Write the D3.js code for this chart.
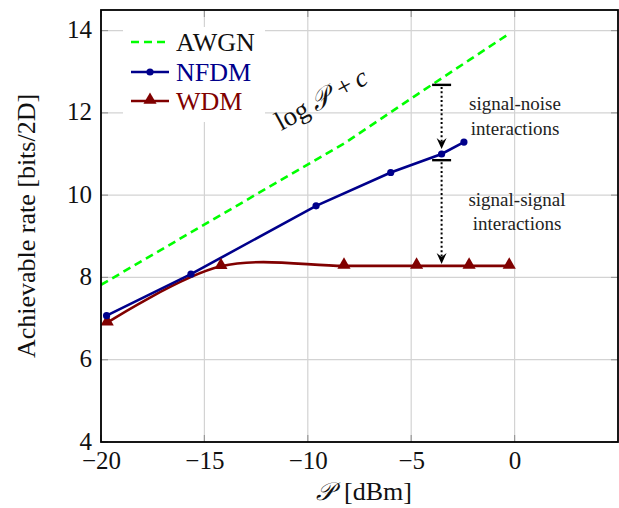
<!DOCTYPE html>
<html>
<head>
<meta charset="utf-8">
<script src="https://cdn.jsdelivr.net/npm/d3@7"></script>
<style>
  html, body { margin: 0; padding: 0; background: #fff; }
</style>
</head>
<body>
<svg id="chart" width="619" height="508" font-family="Liberation Serif"></svg>
<script>
// ---- data ----
const xTicks = [-20, -15, -10, -5, 0];
const yTicks = [4, 6, 8, 10, 12, 14];

const awgnX = [-20, -14.2, -8.2, -4.7, -2.2, -0.25];
const awgnY = [7.82, 9.52, 11.27, 12.45, 13.28, 13.93];

const nfdmX = [-19.73, -15.65, -9.6, -5.99, -3.53, -2.45];
const nfdmY = [7.07, 8.08, 9.74, 10.55, 11.0, 11.29];

const wdmX = [-19.7, -14.2, -8.25, -4.74, -2.2, -0.26];
const wdmY = [6.9, 8.27, 8.28, 8.28, 8.28, 8.28];

const seriesNames = ["AWGN", "NFDM", "WDM"];
const seriesColors = ["#00ff00", "#00008b", "#800000"];

// annotation values (in data units)
const annX = -3.53;
const annAwgn = 12.68;
const annNfdm = 11.0;
const annMid = 10.85;
const annWdm = 8.28;
const annLabels = [["signal-noise", "interactions"], ["signal-signal", "interactions"]];

// ---- chart ----
const FONT = "Liberation Serif";
const svg = d3.select("#chart");
const x = d3.scaleLinear().domain([-20, 5]).range([101, 618]);
const y = d3.scaleLinear().domain([4, 14.5]).range([442, 10]);
const [x0, x1] = x.range();
const [y0, y1] = y.range();

// grid
const grid = svg.append("g");
grid.selectAll(".vg").data(xTicks).join("line")
  .attr("x1", d => x(d)).attr("x2", d => x(d)).attr("y1", y0).attr("y2", y1)
  .attr("stroke", "#d3d3d3").attr("stroke-width", 1.2);
grid.selectAll(".hg").data(yTicks).join("line")
  .attr("y1", d => y(d)).attr("y2", d => y(d)).attr("x1", x0).attr("x2", x1)
  .attr("stroke", "#d3d3d3").attr("stroke-width", 1.2);

// tick marks (inside, all four sides)
const tk = svg.append("g").attr("stroke", "#999").attr("stroke-width", 1.2);
xTicks.forEach(t => {
  tk.append("line").attr("x1", x(t)).attr("x2", x(t)).attr("y1", y0).attr("y2", y0 - 7);
  tk.append("line").attr("x1", x(t)).attr("x2", x(t)).attr("y1", y1).attr("y2", y1 + 7);
});
yTicks.forEach(t => {
  tk.append("line").attr("y1", y(t)).attr("y2", y(t)).attr("x1", x0).attr("x2", x0 + 7);
  tk.append("line").attr("y1", y(t)).attr("y2", y(t)).attr("x1", x1).attr("x2", x1 - 7);
});

// axes labels via d3 axes (no lines)
const xAxis = svg.append("g").attr("transform", `translate(0,${y0})`)
  .call(d3.axisBottom(x).tickValues(xTicks).tickSize(0).tickPadding(27)
    .tickFormat(d => d < 0 ? "\u2212" + Math.abs(d) : d));
xAxis.attr("font-family", FONT).attr("font-size", 25);
xAxis.select(".domain").remove();
xAxis.selectAll("text").attr("fill", "#111").attr("dy", 0).attr("font-family", FONT);

const yAxis = svg.append("g").attr("transform", `translate(${x0},0)`)
  .call(d3.axisLeft(y).tickValues(yTicks).tickSize(0).tickPadding(9));
yAxis.attr("font-family", FONT).attr("font-size", 25);
yAxis.select(".domain").remove();
yAxis.selectAll("text").attr("fill", "#111").attr("dy", "0.28em").attr("font-family", FONT);

// clip
svg.append("clipPath").attr("id", "clip").append("rect")
  .attr("x", x0).attr("y", y1).attr("width", x1 - x0).attr("height", y0 - y1);
const plot = svg.append("g").attr("clip-path", "url(#clip)");

const awgn = awgnX.map((v, i) => [v, awgnY[i]]);
const nfdm = nfdmX.map((v, i) => [v, nfdmY[i]]);
const wdm = wdmX.map((v, i) => [v, wdmY[i]]);

const lineLin = d3.line().x(d => x(d[0])).y(d => y(d[1]));
const lineSmooth = d3.line().x(d => x(d[0])).y(d => y(d[1])).curve(d3.curveCatmullRom.alpha(0.5));

plot.append("path").datum(awgn).attr("d", lineLin)
  .attr("fill", "none").attr("stroke", seriesColors[0]).attr("stroke-width", 2.6)
  .attr("stroke-dasharray", "8,5");

plot.append("path").datum(wdm).attr("d", lineSmooth)
  .attr("fill", "none").attr("stroke", seriesColors[2]).attr("stroke-width", 2.6);

plot.append("path").datum(nfdm).attr("d", lineLin)
  .attr("fill", "none").attr("stroke", seriesColors[1]).attr("stroke-width", 2.6);

const tri = d3.symbol().type(d3.symbolTriangle).size(75);
plot.selectAll(".wm").data(wdm).join("path")
  .attr("d", tri).attr("transform", d => `translate(${x(d[0])},${y(d[1]) - 1})`)
  .attr("fill", seriesColors[2]);

plot.selectAll(".nm").data(nfdm).join("circle")
  .attr("cx", d => x(d[0])).attr("cy", d => y(d[1])).attr("r", 3.6)
  .attr("fill", seriesColors[1]);

// frame
svg.append("rect").attr("x", x0).attr("y", y1).attr("width", x1 - x0).attr("height", y0 - y1)
  .attr("fill", "none").attr("stroke", "#000").attr("stroke-width", 1.8);

// annotations: bars + dotted arrows
const ax = x(annX);
const ann = svg.append("g");
[annAwgn, annMid].forEach(v => {
  ann.append("line").attr("x1", ax - 9.5).attr("x2", ax + 9.5).attr("y1", y(v)).attr("y2", y(v))
    .attr("stroke", "#000").attr("stroke-width", 2.4);
});
function arrow(fromV, toV, tipOffset) {
  const ys = y(fromV), yt = y(toV) - tipOffset;
  ann.append("line").attr("x1", ax).attr("x2", ax).attr("y1", ys + 2).attr("y2", yt - 4)
    .attr("stroke", "#000").attr("stroke-width", 2).attr("stroke-dasharray", "2,2.4");
  ann.append("path")
    .attr("d", `M${ax},${yt} L${ax - 5},${yt - 11} L${ax},${yt - 7} L${ax + 5},${yt - 11} Z`)
    .attr("fill", "#000");
}
arrow(annAwgn, annNfdm, 5);
arrow(annMid, annWdm, 2);

// annotation texts
const annPos = [[515, 110, 135], [517, 206, 230]];
annLabels.forEach((lines, i) => {
  lines.forEach((s, j) => {
    svg.append("text").attr("x", annPos[i][0]).attr("y", annPos[i][1 + j])
      .attr("font-family", FONT)
      .attr("text-anchor", "middle").attr("font-size", 19).attr("fill", "#222").text(s);
  });
});

// log P + c  (rotated along the AWGN slope)
const lp = svg.append("g").attr("transform", "translate(281,131) rotate(-28.5)")
  .attr("font-family", FONT).attr("font-size", 27).attr("fill", "#111");
lp.append("text").attr("x", 0).text("log");
lp.append("text").attr("x", 40).attr("font-style", "italic").text("\u{1D4AB}");
lp.append("text").attr("x", 69).text("+");
lp.append("text").attr("x", 89).attr("font-style", "italic").text("c");

// legend
const lg = svg.append("g");
lg.append("rect").attr("x", 123).attr("y", 27).attr("width", 142).attr("height", 95).attr("fill", "#fff");
const legY = [42, 72, 101];
seriesNames.forEach((n, i) => {
  const gy = legY[i];
  const l = lg.append("line").attr("x1", 131).attr("x2", 169).attr("y1", gy).attr("y2", gy)
    .attr("stroke", seriesColors[i]).attr("stroke-width", 2.6);
  if (i === 0) l.attr("stroke-dasharray", "8,5");
  if (i === 1) lg.append("circle").attr("cx", 150).attr("cy", gy).attr("r", 3.6).attr("fill", seriesColors[1]);
  if (i === 2) lg.append("path").attr("d", tri).attr("transform", `translate(150,${gy - 1})`).attr("fill", seriesColors[2]);
  lg.append("text").attr("x", 176).attr("y", gy).attr("dy", "0.35em").attr("font-size", 26)
    .attr("font-family", FONT)
    .attr("fill", i === 0 ? "#111" : seriesColors[i]).text(n);
});

// axis titles
svg.append("text").attr("x", 334).attr("y", 500).attr("text-anchor", "end")
  .attr("font-family", FONT).attr("font-size", 25).attr("font-style", "italic").attr("fill", "#111")
  .text("\u{1D4AB}");
svg.append("text").attr("x", 344).attr("y", 500).attr("text-anchor", "start")
  .attr("font-family", FONT).attr("font-size", 26).attr("fill", "#111").text("[dBm]");

svg.append("text").attr("transform", "translate(35,226) rotate(-90)").attr("text-anchor", "middle")
  .attr("font-family", FONT)
  .attr("font-size", 26).attr("fill", "#111").text("Achievable rate [bits/2D]");
</script>
</body>
</html>
